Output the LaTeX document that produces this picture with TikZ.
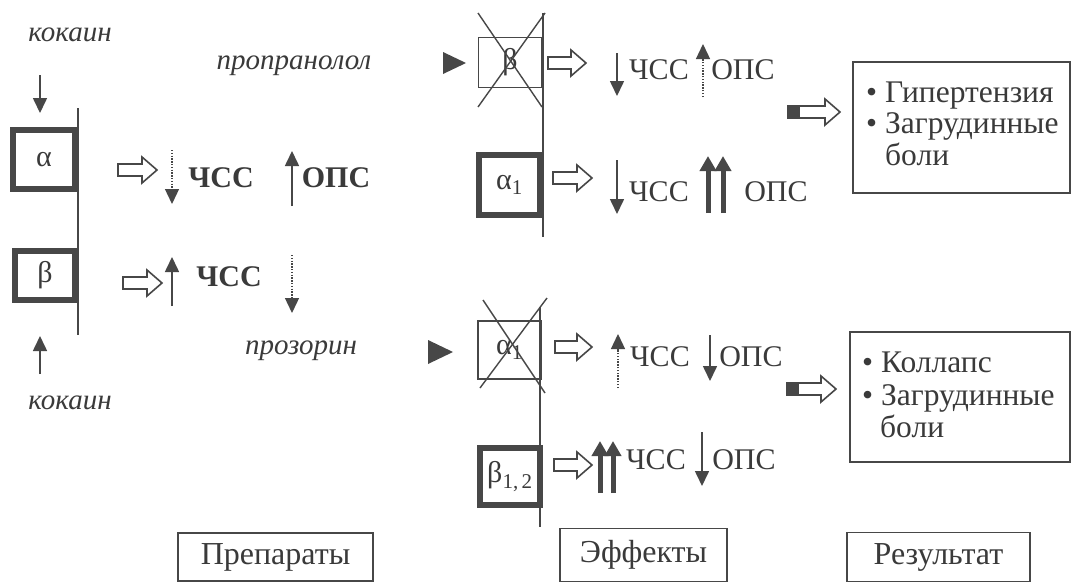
\documentclass[tikz,border=0pt]{standalone}
\usepackage{fontspec}
\setmainfont{Liberation Serif}
\usetikzlibrary{arrows.meta}
\definecolor{gc}{HTML}{3A3A3A}
\definecolor{lc}{HTML}{474747}
\begin{document}
\begin{tikzpicture}[x=1pt,y=-1pt,
  txt/.style={text=gc,inner sep=0pt,font=\fontsize{30}{34}\selectfont},
  rtxt/.style={text=gc,inner sep=0pt,font=\fontsize{31.5}{34}\selectfont},
  btxt/.style={text=gc,inner sep=0pt,font=\fontsize{30}{34}\selectfont\bfseries},
  itxt/.style={text=gc,inner sep=0pt,font=\fontsize{29}{34}\selectfont\itshape},
  thickbox/.style={draw=lc,line width=6pt,inner sep=0pt,text=gc,font=\fontsize{30}{34}\selectfont},
  thinbox/.style={draw=lc,line width=1.8pt,inner sep=0pt,text=gc,font=\fontsize{30}{34}\selectfont},
  labbox/.style={thinbox,font=\fontsize{32}{34}\selectfont},
  arr/.style={draw=lc,line width=1.6pt,-{Triangle[length=15pt,width=14pt]}},
  darr/.style={draw=lc,line width=1.3pt,dash pattern=on 1.4pt off 1.4pt,-{Triangle[length=15pt,width=14pt]}},
  dbl/.style={draw=lc,line width=5pt,-{Triangle[length=15pt,width=16pt]}},
  vline/.style={draw=lc,line width=1.6pt},
  crossl/.style={draw=lc,line width=1.4pt},
  hol/.pic={\draw[draw=lc,line width=1.6pt,fill=white,line join=miter] (0,-6)--({#1-15},-6)--({#1-15},-13)--(#1,0)--({#1-15},13)--({#1-15},6)--(0,6)--cycle;},
  holt/.pic={\draw[draw=lc,line width=1.6pt,fill=white,line join=miter] (0,-6)--({#1-15},-6)--({#1-15},-13)--(#1,0)--({#1-15},13)--({#1-15},6)--(0,6)--cycle;
             \fill[lc] (0,-6) rectangle (12,6);},
]
\useasboundingbox (0,0) rectangle (1071,584);
\fill[white] (0,0) rectangle (1071,584);

% ---------- left column ----------
\node[itxt] (koc1) at (70,35) {кокаин};
\node[itxt] (koc2) at (70,403) {кокаин};
\draw[vline] (78,108) -- (78,335);
\node[thickbox,minimum width=62pt,minimum height=59pt] (a) at (44,159.5) {α};
\node[thickbox,minimum width=60pt,minimum height=49pt] (b) at (45,275.5) {β};
\coordinate (k1s) at (40,75); \coordinate (k1e) at (40,113);
\draw[arr] (k1s) -- (k1e);
\coordinate (k2s) at (40,374); \coordinate (k2e) at (40,336);
\draw[arr] (k2s) -- (k2e);

% row alpha
\pic at (118,170) {hol=39};
\coordinate (d1s) at (172,150); \coordinate (d1e) at (172,204);
\draw[darr] (d1s) -- (d1e);
\node[btxt] (hr1) at (221,177.5) {ЧСС};
\coordinate (u1s) at (292,206); \coordinate (u1e) at (292,151);
\draw[arr] (u1s) -- (u1e);
\node[btxt] (op1) at (336,177.5) {ОПС};

% row beta
\pic at (123,283) {hol=39};
\coordinate (u2s) at (172,306); \coordinate (u2e) at (172,257);
\draw[arr] (u2s) -- (u2e);
\node[btxt] (hr2) at (229,277) {ЧСС};
\coordinate (d2s) at (292,255); \coordinate (d2e) at (292,313);
\draw[darr] (d2s) -- (d2e);

\node[itxt] (prop) at (294,66) {пропранолол};
\node[itxt] (proz) at (301,351) {прозорин};

% ---------- middle top ----------
\fill[lc] (443,52) -- (466,63) -- (443,74) -- cycle;
\draw[vline] (543,13) -- (543,237);
\node[thinbox,minimum width=63pt,minimum height=50pt] (bx) at (510,62.5) {β};
\draw[crossl] (478,13) -- (542,107);
\draw[crossl] (545,13) -- (478,107);
\pic at (548,63) {hol=38};
\coordinate (d3s) at (617,53); \coordinate (d3e) at (617,96);
\draw[arr] (d3s) -- (d3e);
\node[txt] (hr3) at (659,70) {ЧСС};
\coordinate (u3s) at (703,97); \coordinate (u3e) at (703,44);
\draw[darr] (u3s) -- (u3e);
\node[txt] (op3) at (743,70) {ОПС};

\node[thickbox,minimum width=61pt,minimum height=60pt] (a1) at (509.5,185) {α\textsubscript{1}};
\pic at (553,178) {hol=39};
\coordinate (d4s) at (617,160); \coordinate (d4e) at (617,214);
\draw[arr] (d4s) -- (d4e);
\node[txt] (hr4) at (659,192) {ЧСС};
\coordinate (u4as) at (708,213); \coordinate (u4ae) at (708,156);
\coordinate (u4bs) at (723,213); \coordinate (u4be) at (723,156);
\draw[dbl] (u4as) -- (u4ae);
\draw[dbl] (u4bs) -- (u4be);
\node[txt] (op4) at (776,192) {ОПС};

% ---------- middle bottom ----------
\fill[lc] (428,340) -- (453,352) -- (428,364) -- cycle;
\draw[vline] (540,307) -- (540,527);
\node[thinbox,minimum width=63pt,minimum height=58pt] (ax) at (509.5,350) {α\textsubscript{1}};
\draw[crossl] (483,300) -- (545,393);
\draw[crossl] (547,298) -- (480,388);
\pic at (555,347) {hol=37};
\coordinate (u5s) at (618,388); \coordinate (u5e) at (618,334);
\draw[darr] (u5s) -- (u5e);
\node[txt] (hr5) at (660,357) {ЧСС};
\coordinate (d5s) at (710,335); \coordinate (d5e) at (710,381);
\draw[arr] (d5s) -- (d5e);
\node[txt] (op5) at (751,357) {ОПС};

\node[thickbox,minimum width=60pt,minimum height=57pt] (b12) at (510,476.5) {β\textsubscript{1,\,2}};
\pic at (554,465) {hol=38};
\coordinate (u6as) at (600,493); \coordinate (u6ae) at (600,441);
\coordinate (u6bs) at (613,493); \coordinate (u6be) at (613,441);
\draw[dbl] (u6as) -- (u6ae);
\draw[dbl] (u6bs) -- (u6be);
\node[txt] (hr6) at (656,460) {ЧСС};
\coordinate (d6s) at (702,432); \coordinate (d6e) at (702,486);
\draw[arr] (d6s) -- (d6e);
\node[txt] (op6) at (744,460) {ОПС};

% ---------- results ----------
\pic at (788,112) {holt=52};
\node[thinbox,minimum width=217pt,minimum height=131pt] (res1) at (961.5,127.5) {};
\node[rtxt,anchor=base west] (r1a) at (866,102) {• Гипертензия};
\node[rtxt,anchor=base west] (r1b) at (866,133) {• Загрудинные};
\node[rtxt,anchor=base west] (r1c) at (885,165) {боли};

\pic at (787,389) {holt=49};
\node[thinbox,minimum width=220pt,minimum height=130pt] (res2) at (960,397) {};
\node[rtxt,anchor=base west] (r2a) at (862,372) {• Коллапс};
\node[rtxt,anchor=base west] (r2b) at (862,405) {• Загрудинные};
\node[rtxt,anchor=base west] (r2c) at (880,437) {боли};

% ---------- bottom labels ----------
\node[labbox,minimum width=195pt,minimum height=48pt] (prep) at (275.5,557) {Препараты};
\node[labbox,minimum width=167pt,minimum height=53pt] (eff) at (643.5,555) {Эффекты};
\node[labbox,minimum width=183pt,minimum height=49pt] (rez) at (938.5,557) {Результат};
\end{tikzpicture}
\end{document}
